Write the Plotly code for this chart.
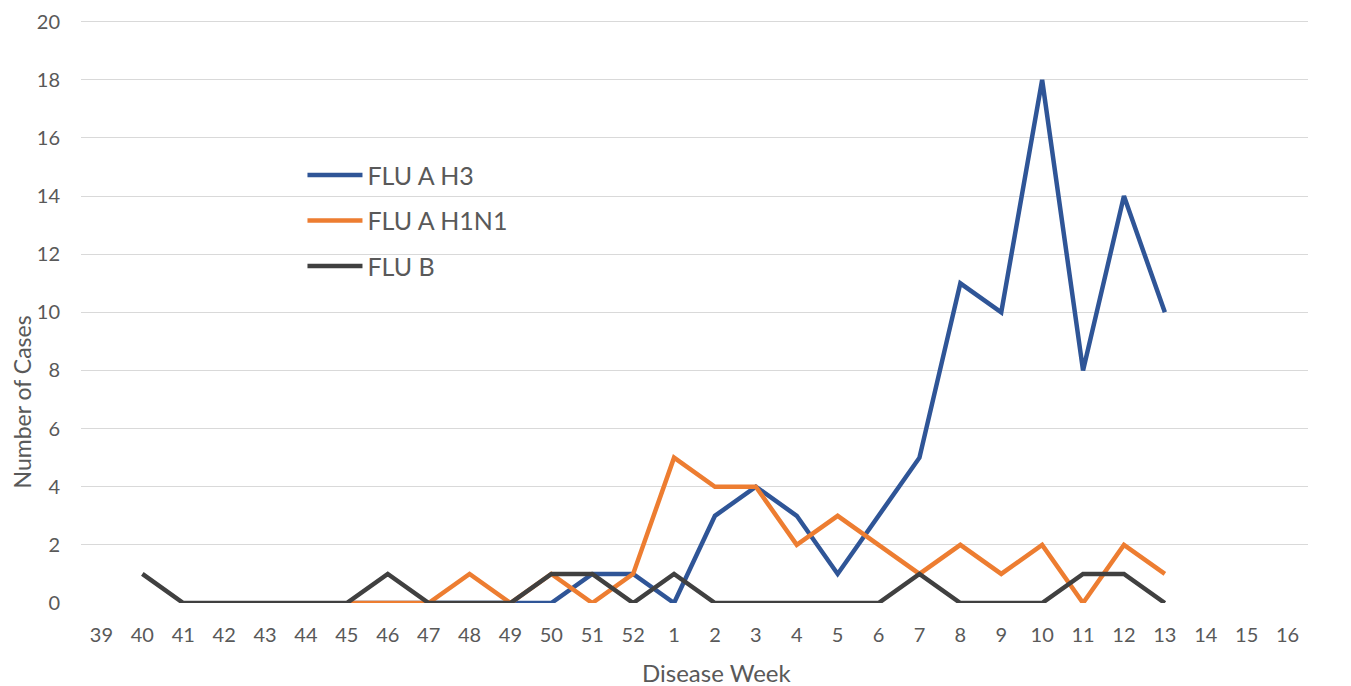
import plotly.graph_objects as go

weeks = [str(w) for w in range(39, 53)] + [str(w) for w in range(1, 17)]
y_ticks = list(range(0, 21, 2))

h3_weeks = ["45", "46", "47", "48", "49", "50", "51", "52", "1", "2", "3", "4", "5", "6", "7", "8", "9", "10", "11", "12", "13"]
h3_vals = [0, 0, 0, 0, 0, 0, 1, 1, 0, 3, 4, 3, 1, 3, 5, 11, 10, 18, 8, 14, 10]

h1n1_weeks = ["45", "46", "47", "48", "49", "50", "51", "52", "1", "2", "3", "4", "5", "6", "7", "8", "9", "10", "11", "12", "13"]
h1n1_vals = [0, 0, 0, 1, 0, 1, 0, 1, 5, 4, 4, 2, 3, 2, 1, 2, 1, 2, 0, 2, 1]

b_weeks = ["40", "41", "42", "43", "44", "45", "46", "47", "48", "49", "50", "51", "52", "1", "2", "3", "4", "5", "6", "7", "8", "9", "10", "11", "12", "13"]
b_vals = [1, 0, 0, 0, 0, 0, 1, 0, 0, 0, 1, 1, 0, 1, 0, 0, 0, 0, 0, 1, 0, 0, 0, 1, 1, 0]

FONT = "Lato, 'Open Sans', sans-serif"
GREY = "#595959"

fig = go.Figure()
fig.add_trace(go.Scatter(x=h3_weeks, y=h3_vals, mode="lines", name="FLU A H3",
                         line=dict(color="#2F5597", width=4.5), legendgroup="a", cliponaxis=False))
fig.add_trace(go.Scatter(x=h1n1_weeks, y=h1n1_vals, mode="lines", name="FLU A H1N1",
                         line=dict(color="#ED7D31", width=4.5), legendgroup="b", cliponaxis=False))
fig.add_trace(go.Scatter(x=b_weeks, y=b_vals, mode="lines", name="FLU B",
                         line=dict(color="#404040", width=4.5), legendgroup="c", cliponaxis=False))

fig.update_layout(
    width=1351, height=686,
    margin=dict(l=73, r=51, t=1, b=91, pad=0),
    paper_bgcolor="white", plot_bgcolor="white",
    font=dict(family=FONT, color=GREY, size=20),
    showlegend=True,
    legend=dict(x=0.1805, y=0.764, xanchor="left", yanchor="top",
                bgcolor="rgba(0,0,0,0)", font=dict(size=25, color=GREY),
                tracegroupgap=10, itemwidth=55),
    xaxis=dict(type="category", categoryorder="array", categoryarray=weeks,
               range=[-0.5, len(weeks) - 0.5],
               showgrid=False, showline=False, zeroline=False, ticks="",
               tickfont=dict(size=20, color=GREY), ticklabelstandoff=18),
    yaxis=dict(range=[0, 20.3], tickmode="array", tickvals=y_ticks,
               showgrid=True, gridcolor="#D9D9D9", gridwidth=1.3,
               zeroline=False, showline=False, ticks="",
               ticklabeloverflow="allow",
               tickfont=dict(size=20, color=GREY), ticklabelstandoff=20),
    annotations=[
        dict(text="Disease Week", xref="paper", yref="paper", x=0.518, y=0,
             xanchor="center", yanchor="middle", yshift=-69, showarrow=False,
             font=dict(size=24, color=GREY)),
        dict(text="Number of Cases", xref="paper", yref="paper", x=0, y=0.34,
             xanchor="center", yanchor="middle", xshift=-59, textangle=-90,
             showarrow=False, font=dict(size=23, color=GREY)),
    ],
)

fig.write_html("out.html")
